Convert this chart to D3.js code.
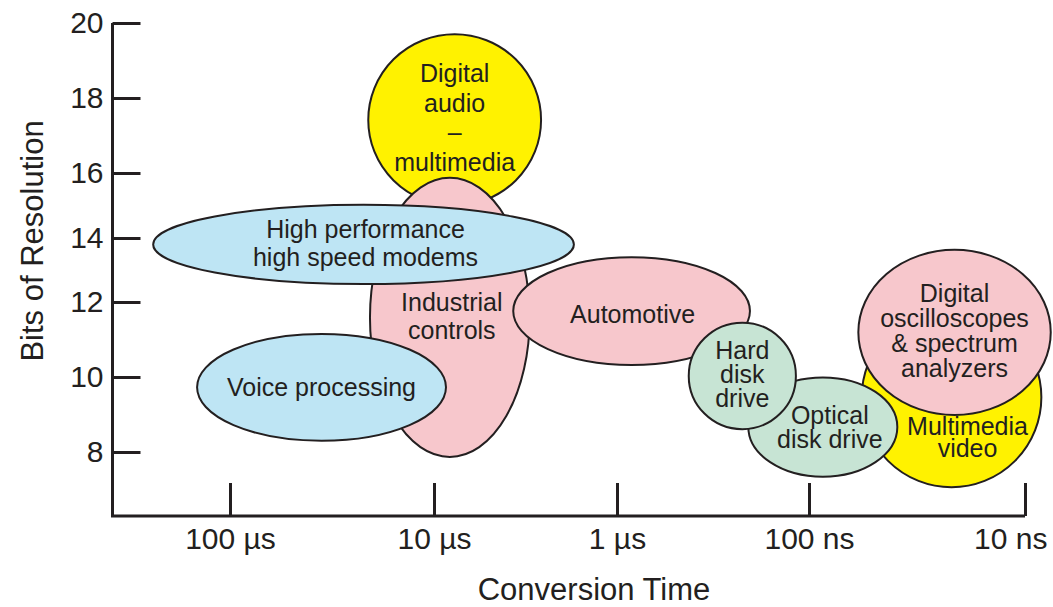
<!DOCTYPE html>
<html>
<head>
<meta charset="utf-8">
<script src="https://cdn.jsdelivr.net/npm/d3@7"></script>
<style>
    body { margin: 0; background: #fff; }
    svg text { font-family: "Liberation Sans", Arial, Helvetica, sans-serif; fill: #231f20; }
</style>
</head>
<body>
<div class="graph-container"></div>
<script>
// axis ticks
const timeTicks = [1e-4, 1e-5, 1e-6, 1e-7, 1e-8];
const timeLabels = ['100 µs', '10 µs', '1 µs', '100 ns', '10 ns'];
const bitTicks = [20, 18, 16, 14, 12, 10, 8];

// application areas, in drawing order
const appNames = ['audio', 'industrial', 'modems', 'voice', 'automotive', 'video', 'scope', 'optical', 'hdd'];
const appLabels = [
    ['Digital', 'audio', '–', 'multimedia'],
    ['Industrial', 'controls'],
    ['High performance', 'high speed modems'],
    ['Voice processing'],
    ['Automotive'],
    ['Multimedia', 'video'],
    ['Digital', 'oscilloscopes', '& spectrum', 'analyzers'],
    ['Optical', 'disk drive'],
    ['Hard', 'disk', 'drive']
];
// conversion time span (seconds): slowest and fastest
const timeSlow = [2.1e-5, 2.06e-5, 2.38e-4, 1.45e-4, 3.69e-6, 5.7e-8, 5.91e-8, 2.07e-7, 4.23e-7];
const timeFast = [2.6e-6, 3.0e-6, 1.72e-6, 8.6e-6, 2.03e-7, 8.4e-9, 7.6e-9, 3.9e-8, 1.17e-7];
// resolution span (bits)
const bitsLow = [15.0, 7.87, 12.56, 8.3, 10.32, 7.06, 8.99, 7.34, 8.61];
const bitsHigh = [19.7, 15.85, 15.02, 11.15, 13.4, 11.86, 13.63, 9.99, 11.45];

// styling per area
const fills = {
    audio: '#fff200', industrial: '#f7c7cc', modems: '#bee5f4', voice: '#bee5f4',
    automotive: '#f7c7cc', video: '#fff200', scope: '#f7c7cc', optical: '#c7e4d4', hdd: '#c7e4d4'
};
// label nudges: dx, dy, line height
const labelPos = {
    audio: [0, -2, 29.5], industrial: [2, -1, 28], modems: [2, -1, 28.5], voice: [0, 0, 28],
    automotive: [1, 3, 28], video: [16, 40, 22.5], scope: [0, -2, 25], optical: [7, 0, 24], hdd: [0, -2, 24]
};

// graph constants
const w = 1053;
const h = 607;
const axisX = 112.5;
const axisY = 516;
const axisRight = 1025;
const ink = '#231f20';

const svg = d3.select('.graph-container')
    .append('svg')
    .attr('width', w)
    .attr('height', h);

// hand-drawn axes are not evenly spaced, so use piecewise scales
const xScale = d3.scaleLog()
    .domain(timeTicks)
    .range([230, 434, 617, 809, 1025]);
const yScale = d3.scaleLinear()
    .domain(bitTicks)
    .range([23, 98, 173, 238, 302, 377, 452]);

// ellipses
const apps = appNames.map((name, i) => {
    const x0 = xScale(timeSlow[i]);
    const x1 = xScale(timeFast[i]);
    const y0 = yScale(bitsHigh[i]);
    const y1 = yScale(bitsLow[i]);
    return { name, lines: appLabels[i], cx: (x0 + x1) / 2, rx: (x1 - x0) / 2, cy: (y0 + y1) / 2, ry: (y1 - y0) / 2 };
});

svg.selectAll('ellipse')
    .data(apps)
    .enter()
    .append('ellipse')
    .attr('cx', d => d.cx)
    .attr('cy', d => d.cy)
    .attr('rx', d => d.rx)
    .attr('ry', d => d.ry)
    .attr('fill', d => fills[d.name])
    .attr('stroke', ink)
    .attr('stroke-width', 2);

// labels
const fs = 25;
apps.forEach(d => {
    const [dx, dy, lh] = labelPos[d.name];
    const n = d.lines.length;
    const t = svg.append('text')
        .attr('text-anchor', 'middle')
        .attr('font-size', fs);
    d.lines.forEach((line, i) => {
        t.append('tspan')
            .attr('x', d.cx + dx)
            .attr('y', d.cy + dy + (i - (n - 1) / 2) * lh + 0.35 * fs)
            .text(line);
    });
});

// axes
const xAxis = d3.axisBottom(xScale)
    .tickValues(timeTicks)
    .tickFormat((d, i) => timeLabels[i])
    .tickSizeInner(-33)
    .tickSizeOuter(0)
    .tickPadding(12);
const yAxis = d3.axisLeft(yScale)
    .tickValues(bitTicks)
    .tickSizeInner(-28)
    .tickSizeOuter(0)
    .tickPadding(9);

const gx = svg.append('g')
    .attr('transform', `translate(0, ${axisY})`)
    .call(xAxis);
const gy = svg.append('g')
    .attr('transform', `translate(${axisX}, 0)`)
    .call(yAxis);
[gx, gy].forEach(g => {
    g.select('.domain').remove();
    g.selectAll('line').attr('stroke', ink).attr('stroke-width', 3);
    g.selectAll('text').attr('font-size', 30).attr('font-family', null).attr('fill', ink);
});
// last time label sits left of its tick, as in the original
gx.selectAll('.tick text')
    .filter((d, i) => i === timeTicks.length - 1)
    .attr('text-anchor', 'end')
    .attr('x', 22);

svg.append('path')
    .attr('d', `M${axisX},${yScale(20)}V${axisY}H${axisRight}`)
    .attr('fill', 'none')
    .attr('stroke', ink)
    .attr('stroke-width', 3);

// axis titles
svg.append('text')
    .text('Conversion Time')
    .attr('font-size', 31)
    .attr('text-anchor', 'middle')
    .attr('x', 594)
    .attr('y', 600);
svg.append('text')
    .text('Bits of Resolution')
    .attr('font-size', 31)
    .attr('text-anchor', 'middle')
    .attr('transform', 'translate(43, 241) rotate(-90)');
</script>
</body>
</html>
